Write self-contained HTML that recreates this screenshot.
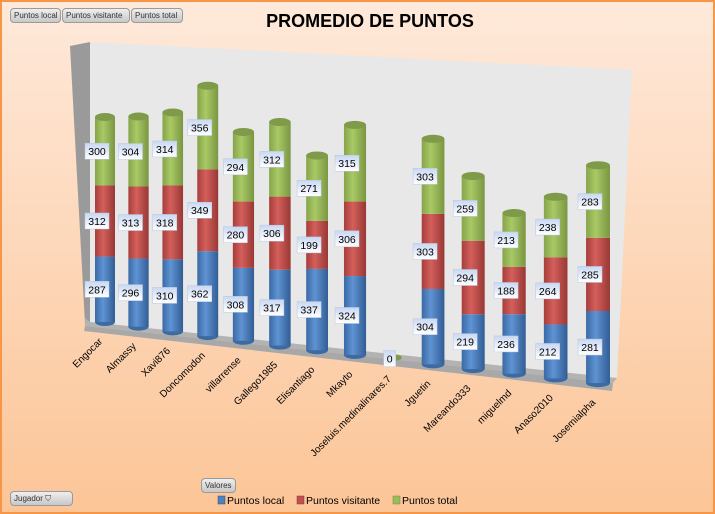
<!DOCTYPE html>
<html><head><meta charset="utf-8"><style>
body{margin:0;width:715px;height:514px;overflow:hidden;font-family:"Liberation Sans",sans-serif}
#wrap{position:absolute;left:0;top:0;width:711px;height:510px;border:2px solid #f79646;background:linear-gradient(#fee9da,#fcc597)}
.btn{position:absolute;top:6px;height:13px;font-size:8px;color:#333;line-height:13px;padding:0 3px;border:1px solid #9a9a9a;border-radius:4px;background:linear-gradient(#eee,#c8c8c8);white-space:nowrap}
</style></head><body>
<div id="wrap">
<div class="btn" style="left:8px;width:43px">Puntos local</div>
<div class="btn" style="left:60px;width:60px">Puntos visitante</div>
<div class="btn" style="left:129px;width:44px">Puntos total</div>
<div class="btn" style="left:199px;top:476px">Valores</div>
<div class="btn" style="left:8px;top:489px;width:55px">Jugador ⛉</div>
</div>
<svg id="svg" width="715" height="514" style="position:absolute;left:0;top:0" xmlns="http://www.w3.org/2000/svg">
<defs>
<linearGradient id="gb" x1="0" x2="1"><stop offset="0" stop-color="#3a6aa5"/><stop offset=".4" stop-color="#5f93d3"/><stop offset="1" stop-color="#325d94"/></linearGradient>
<linearGradient id="gr" x1="0" x2="1"><stop offset="0" stop-color="#a63e3b"/><stop offset=".4" stop-color="#d45f5b"/><stop offset="1" stop-color="#983835"/></linearGradient>
<linearGradient id="gg" x1="0" x2="1"><stop offset="0" stop-color="#86a44a"/><stop offset=".4" stop-color="#a9c965"/><stop offset="1" stop-color="#7a9642"/></linearGradient>
<linearGradient id="gl" x1="0" y1="0" x2="0" y2="1"><stop offset="0" stop-color="#c9d8f2"/><stop offset="1" stop-color="#ffffff"/></linearGradient>
</defs>
<text x="370" y="27" text-anchor="middle" font-size="18" font-weight="bold">PROMEDIO DE PUNTOS</text>
<polygon points="70,46 90,42 90,322 85,324" fill="#9a9a9a"/>
<polygon points="90,42 632,70 617,378 90,322" fill="#e8e8e8"/>
<polygon points="85,318 90,322 617,378 613,383 85,326" fill="#b3b3b3"/>
<polygon points="85,326 613,383 612,391 84,331" fill="#a8a8a8"/>
<g id="bars"></g>
<g font-size="10.5">
<rect x="218" y="496" width="7" height="8" fill="#4f81bd" stroke="#2c4d75" stroke-width=".5"/><text x="227" y="504">Puntos local</text>
<rect x="297" y="496" width="7" height="8" fill="#c0504d" stroke="#8c3836" stroke-width=".5"/><text x="306" y="504">Puntos visitante</text>
<rect x="393" y="496" width="7" height="8" fill="#9bbb59" stroke="#71893f" stroke-width=".5"/><text x="402" y="504">Puntos total</text>
</g>
</svg>
<script>
const categories=["Engocar","Almassy","Xavi876","Doncomodon","villarrense","Gallego1985","Elisantiago","Mkayto","Joseluis.medinalinares.7","Jguetin","Mareando333","miguelmd","Anaso2010","Josemialpha"];
const local=[287,296,310,362,308,317,337,324,0,304,219,236,212,281];
const visitante=[312,313,318,349,280,306,199,306,0,303,294,188,264,285];
const total=[300,304,314,356,294,312,271,315,0,303,259,213,238,283];
const NS="http://www.w3.org/2000/svg";
const g=document.getElementById('bars');
function xc(i){return 105+i*33.14+i*i*0.368;}
function yb(i){return 322+i*4.7;}
function sc(i){return 0.228+i*0.0022;}
function yv(i,v){return yb(i)-v*sc(i);}
function mk(t,a){const e=document.createElementNS(NS,t);for(const k in a)e.setAttribute(k,a[k]);return e;}
function label(x,y,txt,w){
  w=w||24;
  const r=mk('rect',{x:x-w/2,y:y-8,width:w,height:16,fill:'url(#gl)',stroke:'#b8c8e0','stroke-width':.5});
  
  
  g.appendChild(r);
  const t=mk('text',{x:x,y:y+4,'text-anchor':'middle','font-size':10.5});
  
  
  t.textContent=txt;g.appendChild(t);
}
const series=[[local,'url(#gb)','#3d6aa0'],[visitante,'url(#gr)','#a8423f'],[total,'url(#gg)','#7f9a48']];
categories.forEach((c,i)=>{
  const x=xc(i),w=20+i*0.3,ry=4;
  let cum=0;
  const labs=[];
  series.forEach((s,k)=>{
    const v=s[0][i];
    const y0=yv(i,cum),y1=yv(i,cum+v);
    if(v>0){
      if(k===0){const e=mk('ellipse',{cx:x,cy:y0,rx:w/2,ry:ry,fill:s[2]});g.appendChild(e);}
      const r=mk('rect',{x:x-w/2,y:y1,width:w,height:y0-y1,fill:s[1]});
      
      
      g.appendChild(r);
      labs.push([x-8,(y0+y1)/2,v]);
    }
    cum+=v;
  });
  const topY=yv(i,cum);
  if(cum>0){
    const e=mk('ellipse',{cx:x,cy:topY,rx:w/2,ry:ry,fill:'#7f9a48'});
    
    
    g.appendChild(e);
    labs.forEach(l=>label(l[0],l[1],l[2]));
  } else {
    const e=mk('ellipse',{cx:x+2,cy:yb(i)-2,rx:6,ry:3,fill:'#7f9a48'});
    
    
    g.appendChild(e);
    label(x-4,yb(i)-1,0,12);
  }
  const t=mk('text',{'text-anchor':'end','font-size':10,transform:`translate(${x-2},${yb(i)+20}) rotate(-45)`});
  
  
  t.textContent=c;g.appendChild(t);
});
</script>
</body></html>
